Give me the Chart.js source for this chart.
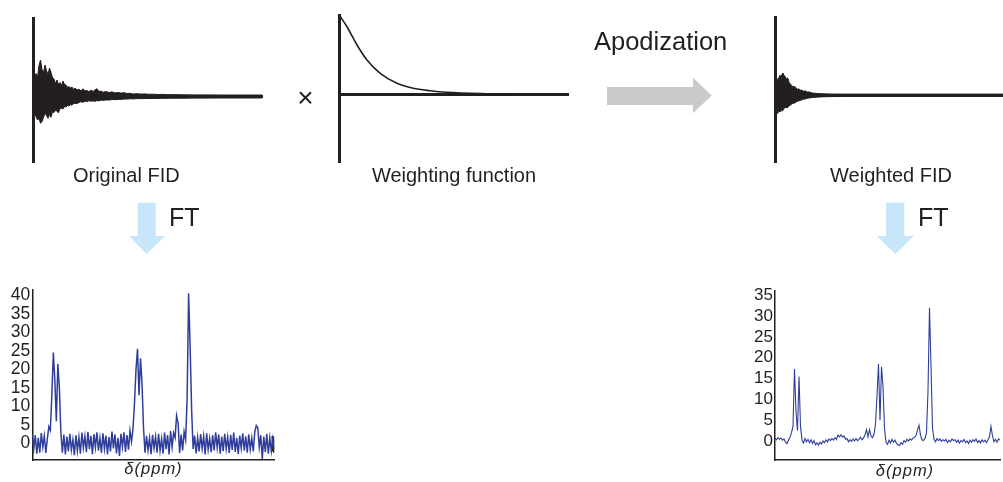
<!DOCTYPE html>
<html>
<head>
<meta charset="utf-8">
<script src="https://cdn.jsdelivr.net/npm/chart.js@4.4.1/dist/chart.umd.min.js"></script>
<style>
  html, body { margin: 0; padding: 0; background: #ffffff; }
  #stage { position: relative; width: 1003px; height: 482px; overflow: hidden; }
  .layer { position: absolute; left: 0; top: 0; width: 1003px; height: 482px; pointer-events: none; }
  #notes { position: absolute; left: 0; top: 0; }
</style>
</head>
<body>
<div id="stage">
  <div class="layer"><canvas id="fidRaw"></canvas></div>
  <div class="layer"><canvas id="weighting"></canvas></div>
  <div class="layer"><canvas id="fidWeighted"></canvas></div>
  <div class="layer"><canvas id="specRaw"></canvas></div>
  <div class="layer"><canvas id="specWeighted"></canvas></div>
  <svg id="notes" width="1003" height="482" font-family="'Liberation Sans', Arial, Helvetica, sans-serif" fill="#231f20">
    <polygon points="607,87 693,87 693,77.7 711.7,95.5 693,113.3 693,105 607,105" fill="#c9cacc"/>
    <polygon points="137.7,202.7 155.7,202.7 155.7,236 165,236 146.7,254 129,236 137.7,236" fill="#c8e6f9"/>
    <polygon points="886,202.7 904.3,202.7 904.3,236 914,236 895.3,254 876.7,236 886,236" fill="#c8e6f9"/>
    <text x="126.3" y="181.7" font-size="20" text-anchor="middle">Original FID</text>
    <text x="454" y="181.7" font-size="20" text-anchor="middle">Weighting function</text>
    <text x="891" y="181.7" font-size="20" text-anchor="middle">Weighted FID</text>
    <text x="594" y="50" font-size="25.5">Apodization</text>
    <text x="305.5" y="107" font-size="28" text-anchor="middle">×</text>
    <text x="169" y="226" font-size="25">FT</text>
    <text x="918" y="226" font-size="25">FT</text>
    <text x="153.5" y="474" font-size="16.5" font-style="italic" text-anchor="middle" letter-spacing="1">δ(ppm)</text>
    <text x="905" y="475.5" font-size="16.5" font-style="italic" text-anchor="middle" letter-spacing="1">δ(ppm)</text>
  </svg>
</div>

<script>
// ---- Free induction decay, as recorded (envelope of the oscillation) ----
const fidRawTime = [0, 1.5, 3, 4.5, 6, 7.5, 9, 10.5, 12, 13.5,
                    15, 16.5, 18, 19.5, 21, 22.5, 24, 25.5, 27, 28.5,
                    30, 31.5, 33, 34.5, 36, 37.5, 39, 40.5, 42, 44,
                    46, 48, 50, 52, 54, 56, 58, 60, 62, 64,
                    66, 68, 70, 73, 76, 79, 82, 85, 88, 91,
                    94, 97, 100, 104, 108, 112, 116, 120, 125, 130,
                    135, 140, 150, 160, 175, 190, 210, 229];
const fidRawUpper = [24, 20, 23, 19, 31, 36.5, 27, 24, 31.5, 26,
                     22, 28.5, 24, 19, 17.5, 13, 16.5, 12, 14, 11,
                     15.5, 12, 11.5, 9, 10, 8.5, 9.5, 7, 8.5, 6.5,
                     7.2, 5.5, 7.8, 5.5, 6, 4.8, 6.5, 5, 6.5, 7.8,
                     5, 5.5, 4.2, 5, 4, 4.6, 3.6, 4, 3.4, 3.8,
                     3, 3.2, 2.5, 2.8, 2.4, 2.6, 2.2, 2.3, 2, 2.1,
                     1.8, 1.9, 1.7, 1.6, 1.6, 1.5, 1.5, 1.5];
const fidRawLower = [-13.5, -17, -20, -23.5, -22, -26.8, -25, -21, -16.8, -19,
                     -21.8, -18, -20.8, -15.2, -16, -13.5, -15, -16.2, -12, -11.8,
                     -12.5, -10, -10.5, -9, -9.5, -8, -8.8, -7, -6.8, -7,
                     -6, -5.2, -5.8, -4.6, -5, -4.2, -4.7, -4.4, -4.8, -4,
                     -4.4, -3.6, -3.8, -3.4, -3.6, -3, -3.2, -2.8, -2.9, -2.5,
                     -2.6, -2.3, -2.4, -2.1, -2.2, -2, -2.1, -1.9, -1.9, -1.8,
                     -1.8, -1.7, -1.7, -1.6, -1.6, -1.5, -1.5, -1.5];

// ---- Exponential weighting (window) function, normalised to 1 ----
const windowTime  = [0, 7.7, 17.7, 27.7, 41, 57.7, 74, 91, 107.7, 141, 180, 229];
const windowValue = [1, 0.852, 0.622, 0.433, 0.265, 0.139, 0.076, 0.045, 0.025, 0.008, 0.002, 0];

// ---- FID after multiplication by the window ----
const fidWeightedTime  = [0, 1, 2, 3, 4, 5, 6, 7, 8, 9,
                          10, 11, 12, 13, 14, 15, 16.5, 18, 19.5, 21,
                          22.5, 24, 25.5, 27, 28.5, 30, 32, 34, 36, 38,
                          41, 44, 48, 55, 70, 228];
const fidWeightedUpper = [10, 15, 16.7, 15, 18, 20, 19, 21, 22.3, 20,
                          19, 16.5, 17.5, 16.7, 13, 11.7, 10, 8.3, 9, 7.5,
                          6, 6.5, 5, 5.2, 4, 4.5, 3.2, 3.4, 2.6, 2.2,
                          2, 1.7, 1.5, 1.3, 1.2, 1.2];
const fidWeightedLower = [-12, -17, -18.3, -17.5, -16, -16.7, -15, -15.8, -15, -13,
                          -12.5, -11.7, -12.5, -12, -10.5, -10, -9, -7.7, -8, -6.5,
                          -6, -5.5, -5, -4.5, -4, -3.6, -3, -2.7, -2.4, -2.1,
                          -1.9, -1.7, -1.5, -1.3, -1.2, -1.2];

// ---- Spectrum of the original FID ----
const spectrumRaw = [
  2.5, -1.5, 2.2, -2.8, 1.5, -2.5, 2.8, -1.0, 2.0, -2.6,
  1.2, 4.5, 3.5, 13, 24.5, 17, 6, 21.5, 15, 3,
  -2.5, 2.4, -3.0, 1.8, -2.2, 2.6, -1.8, 1.0, -3.2, 2.2,
  -2.0, 1.6, -2.8, 2.9, -1.2, 1.9, -2.4, 3.1, -1.6, 2.0,
  -2.9, 2.5, -1.1, 3.0, -2.0, 1.4, -2.6, 2.7, -1.5, 2.1,
  -3.0, 1.7, -2.2, 3.2, -1.4, 2.4, -2.7, 1.5, -3.4, 2.6,
  -1.0, 3.0, -2.3, 2.2, -1.7, 3.4, 0.5, 4, 11, 20,
  25.5, 13, 23, 16, 4, -2.5, 2.0, -1.8, 1.4, -2.9,
  2.3, -1.3, 1.8, -2.5, 2.6, -2.0, 1.2, -2.8, 2.9, -1.6,
  2.2, -3.0, 3.3, -1.0, 2.8, 1.5, 7.5, 5.5, -2.6, 2.4,
  -1.9, 3.1, 1.0, 12, 40.5, 26, 9, -1.5, 2.1, -2.7,
  1.6, -2.2, 2.5, -1.4, 1.9, -3.0, 2.7, -1.7, 1.3, -2.4,
  2.2, -1.9, 3.0, -1.2, 2.4, -2.8, 1.8, -2.1, 2.6, -1.5,
  1.7, -2.6, 2.3, -1.8, 2.9, -2.3, 1.5, -2.9, 2.1, -1.3,
  2.7, -2.0, 1.9, -2.5, 2.4, -1.6, 1.4, -2.2, 3.0, 4.8,
  4.2, -1.0, 2.2, -4.2, 1.8, -2.3, 2.6, -2.8, 1.5, -2.1,
  1.2, -1.5
];
// short dark trace at the right end of the raw spectrum
const spectrumRawTailIndex = [159.6, 160, 160.4, 160.8, 161];
const spectrumRawTail      = [2.0, -2.2, 1.8, -2.6, 1.0];

// ---- Spectrum of the weighted FID ----
const spectrumWeighted = [
  0.6, 0.3, 0.8, 0.4, 0.7, 0.2, 0.5, -0.3, -0.6, 0.2,
  0.9, 2.0, 3.5, 17.3, 7, 2.5, 15.5, 3.5, 0.2, -0.5,
  0.6, -0.2, 0.4, -0.4, 0.3, -0.6, 0.1, -0.9, -0.4, -1.0,
  -0.3, -0.7, 0.0, -0.4, 0.3, -0.2, 0.5, 0.1, 0.6, 0.2,
  0.8, 0.4, 1.4, 1.0, 1.5, 0.9, 1.2, 0.4, 0.6, -0.2,
  0.3, -0.1, 0.5, 0.0, 0.6, 0.1, 0.4, 0.9, 0.3, 0.7,
  1.5, 2.7, 1.0, 2.7, 1.2, 0.8, 1.6, 4, 11, 18.5,
  5, 17.8, 13, 3, -0.3, -0.8, 0.2, -0.5, 0.4, -0.3,
  0.2, -0.6, -0.9, -1.1, -0.4, -0.8, 0.1, -0.3, 0.4, 0.0,
  0.5, 0.2, 0.7, 0.9, 1.3, 2.6, 3.8, 1.4, 0.3, 0.1,
  0.6, 2.0, 12, 32, 18, 3, 0.4, -0.2, 0.6, 0.1,
  0.5, -0.1, 0.3, 0.0, 0.4, -0.4, 0.2, -0.2, 0.5, 0.1,
  0.3, -0.3, 0.2, -0.5, 0.1, -0.2, 0.4, -0.4, 0.0, -0.6,
  0.2, -0.3, 0.3, -0.1, 0.5, -0.4, 0.1, -0.5, 0.3, -0.2,
  0.2, -0.4, 0.3, 1.0, 3.5, 1.2, -0.2, 0.4, -0.3, 0.5,
  0.2
];

const rawTickValues = [0, 5, 10, 15, 20, 25, 30, 35, 40];
const weightedTickValues = [0, 5, 10, 15, 20, 25, 30, 35];

// ---- drawing ----
const INK = '#231f20';
const SPEC_BLUE = '#2f3e9b';
const PAGE_W = 1003, PAGE_H = 482;

Chart.defaults.animation = false;
Chart.defaults.font.family = "'Liberation Sans', Arial, Helvetica, sans-serif";

const pts = (xs, ys) => ys.map((y, i) => ({ x: xs[i], y }));
const idx = ys => ys.map((y, i) => ({ x: i, y }));

// box = plot rectangle on the page; the padding puts the chart area exactly there.
// gutter = room kept for the y tick labels left of the plot.
function plot(id, box, datasets, xScale, yScale, gutter = 0) {
  return new Chart(document.getElementById(id), {
    type: 'line',
    data: { datasets },
    options: {
      responsive: true,
      maintainAspectRatio: false,
      devicePixelRatio: 1,
      events: [],
      layout: { padding: { left: box.l - gutter, top: box.t, right: PAGE_W - box.r, bottom: PAGE_H - box.b } },
      plugins: { legend: { display: false }, tooltip: { enabled: false } },
      elements: { point: { radius: 0 } },
      scales: { x: xScale, y: yScale }
    }
  });
}

function timeAxis(max) {
  return {
    type: 'linear', min: 0, max, position: { y: 0 },
    ticks: { display: false }, grid: { display: false, drawTicks: false },
    border: { color: INK, width: 3 },
    afterFit: s => { s.height = 0; }
  };
}
function amplitudeAxis(min, max) {
  return {
    type: 'linear', min, max,
    ticks: { display: false }, grid: { display: false, drawTicks: false },
    border: { color: INK, width: 3 },
    afterFit: s => { s.width = 0; }
  };
}
function envelope(xs, upper, lower) {
  return [
    { data: pts(xs, upper), borderColor: INK, backgroundColor: INK, borderWidth: 1, fill: '+1', tension: 0 },
    { data: pts(xs, lower), borderColor: INK, borderWidth: 1, fill: false, tension: 0 }
  ];
}

plot('fidRaw', { l: 33, t: 18, r: 262, b: 162 },
  envelope(fidRawTime, fidRawUpper, fidRawLower),
  timeAxis(229), amplitudeAxis(-65.5, 78.5));

plot('weighting', { l: 339.3, t: 15, r: 568, b: 162 },
  [{ data: pts(windowTime, windowValue), borderColor: INK, borderWidth: 1.6, fill: false,
     cubicInterpolationMode: 'monotone' }],
  timeAxis(229), amplitudeAxis(-0.854, 1));

plot('fidWeighted', { l: 775, t: 17, r: 1003, b: 162 },
  envelope(fidWeightedTime, fidWeightedUpper, fidWeightedLower),
  timeAxis(228), amplitudeAxis(-66.7, 78.3));

function shiftAxis(max) {
  return {
    type: 'linear', min: 0, max,
    ticks: { display: false }, grid: { display: false, drawTicks: false },
    border: { color: INK, width: 1.5 },
    afterFit: s => { s.height = 0; }
  };
}
function intensityAxis(min, max, tickValues, size, gutter) {
  return {
    type: 'linear', min, max,
    afterBuildTicks: s => { s.ticks = tickValues.map(v => ({ value: v })); },
    ticks: { color: INK, padding: 2, font: { size }, autoSkip: false },
    grid: { display: false, drawTicks: false },
    border: { color: INK, width: 1.5 },
    afterFit: s => { s.width = gutter; }
  };
}

plot('specRaw', { l: 32.3, t: 289.3, r: 274.3, b: 460 },
  [
    { data: idx(spectrumRaw), borderColor: SPEC_BLUE, borderWidth: 1.5, fill: false, tension: 0 },
    { data: pts(spectrumRawTailIndex, spectrumRawTail), borderColor: INK, borderWidth: 1.5, fill: false, tension: 0 }
  ],
  shiftAxis(spectrumRaw.length - 1), intensityAxis(-4.5, 41.6, rawTickValues, 17.5, 32), 32);

plot('specWeighted', { l: 775, t: 291, r: 1000, b: 460 },
  [{ data: idx(spectrumWeighted), borderColor: SPEC_BLUE, borderWidth: 1.1, fill: false, tension: 0 }],
  shiftAxis(spectrumWeighted.length - 1), intensityAxis(-4.56, 36, weightedTickValues, 17, 40), 40);
</script>
</body>
</html>
